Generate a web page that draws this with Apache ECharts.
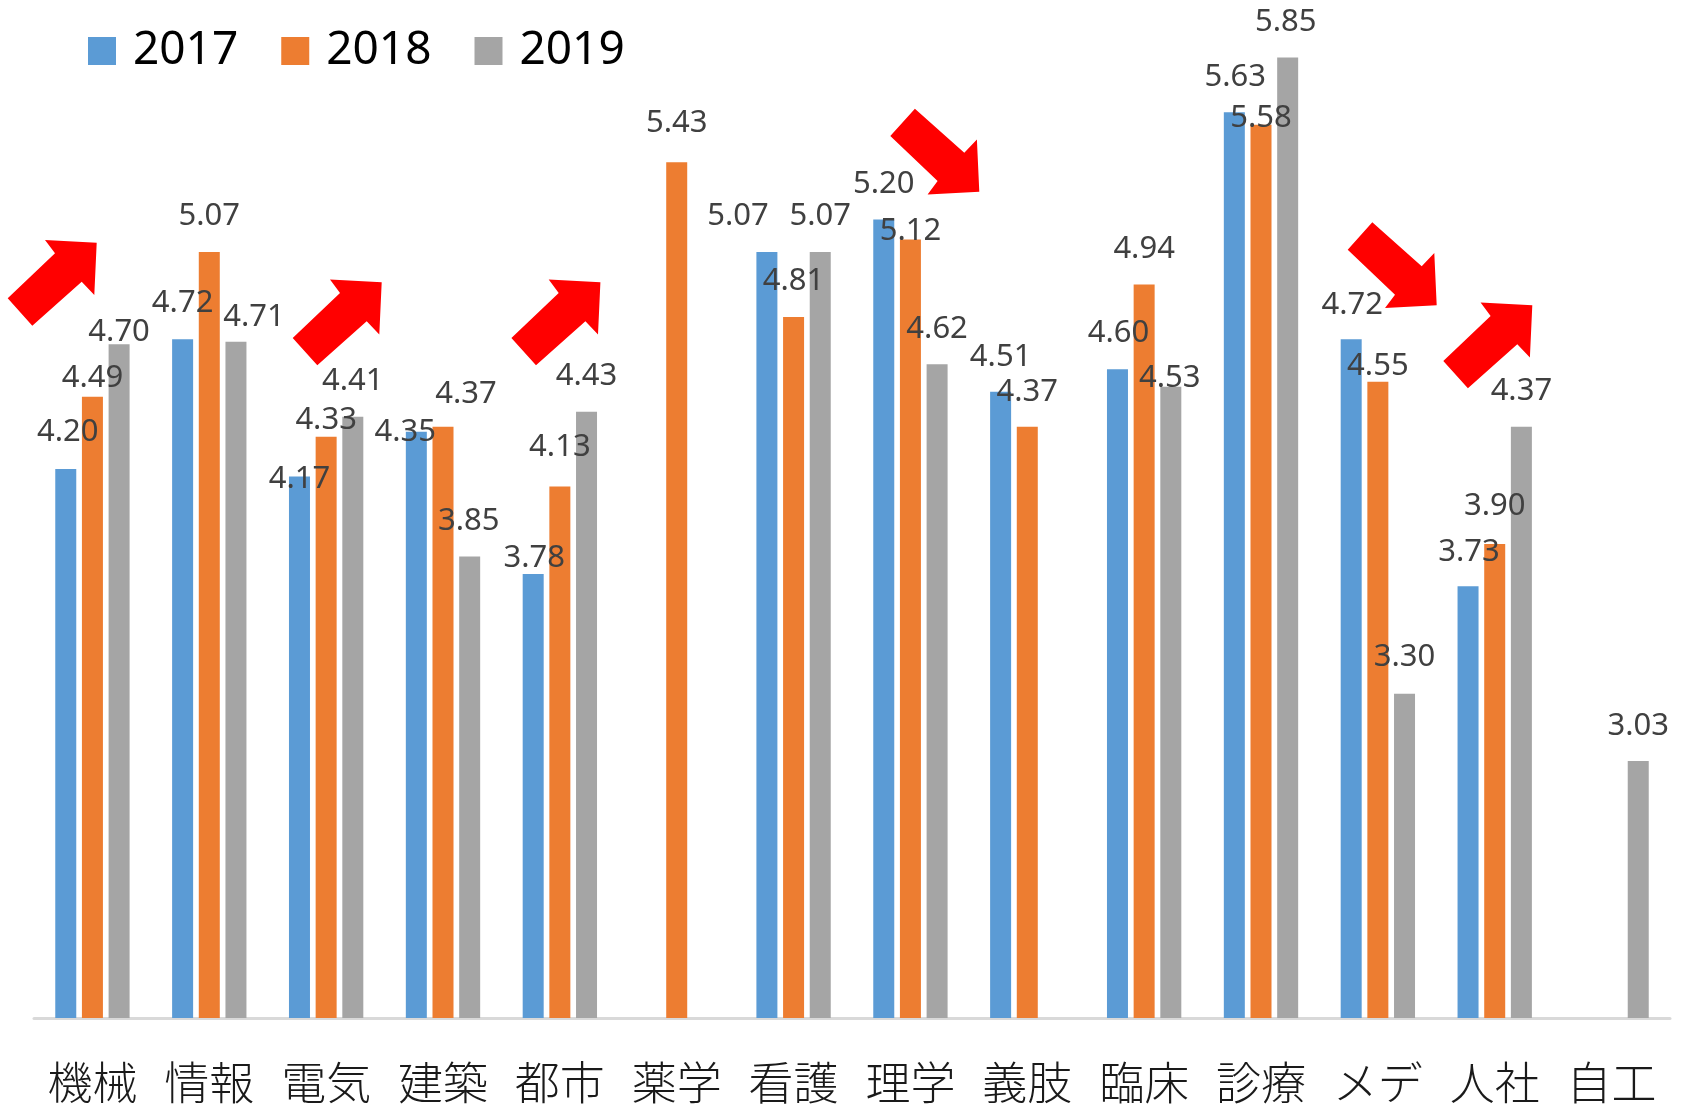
<!DOCTYPE html>
<html>
<head>
<meta charset="utf-8">
<script src="https://cdn.jsdelivr.net/npm/echarts@6/dist/echarts.min.js"></script>
<style>
  html, body { margin: 0; padding: 0; background: #fff; }
  #main { width: 1681px; height: 1107px; }
</style>
</head>
<body>
<div id="main"></div>
<script>
// 学科
var categories = ['機械', '情報', '電気', '建築', '都市', '薬学', '看護', '理学', '義肢', '臨床', '診療', 'メデ', '人社', '自工'];
var years = ['2017', '2018', '2019'];
// 年度ごとの値 (null = データなし)
var values2017 = [4.20, 4.72, 4.17, 4.35, 3.78, null, 5.07, 5.20, 4.51, 4.60, 5.63, 4.72, 3.73, null];
var values2018 = [4.49, 5.07, 4.33, 4.37, 4.13, 5.43, 4.81, 5.12, 4.37, 4.94, 5.58, 4.55, 3.90, null];
var values2019 = [4.70, 4.71, 4.41, 3.85, 4.43, null, 5.07, 4.62, null, 4.53, 5.85, 3.30, 4.37, 3.03];

// ラベルのずらし (バー上端からラベル中心まで, px)
var shift2017 = [[2,-37],[0,-36],[0,3],[-11,0],[1,-16],null,[-29,-36],[0,-35],[0,-35],[1,-36],[1,-35],[1,-34],[1,-34],null];
var shift2018 = [[0,-19],[0,-36],[0,-16],[23,-33],[0,-39],[0,-39],[0,-36],[0,-8],[0,-35],[0,-35],[0,-7],[0,-16],[0,-38],null];
var shift2019 = [[0,-12],[18,-25],[0,-36],[-1,-35],[0,-36],null,[0,-36],[0,-35],null,[-1,-9],[-2,-35],[0,-36],[0,-36],[0,-35]];

var colors = ['#5B9BD5', '#ED7D31', '#A5A5A5'];
var LABEL_H = 32;

function buildData(vals, shifts) {
  return vals.map(function (v, i) {
    if (v === null) return '-';
    var s = shifts[i] || [0, -36];
    return { value: v, label: { offset: [s[0], s[1] + LABEL_H / 2] } };
  });
}

// 赤い矢印 (先端を基準)
function arrow(tipX, tipY, down) {
  var pts = [[0, 0], [-2.4, 52.3], [-15, 39], [-64.4, 83], [-89, 55.6], [-41.7, 10.6], [-51.7, -2.7]];
  return {
    type: 'polygon',
    x: tipX,
    y: tipY,
    shape: { points: pts.map(function (p) { return [p[0], down ? -p[1] : p[1]]; }) },
    style: { fill: '#FF0000' },
    z: 100
  };
}

var chart = echarts.init(document.getElementById('main'));

var labelStyle = {
  show: true,
  position: 'top',
  distance: 0,
  fontFamily: 'Noto Sans',
  fontSize: 31,
  lineHeight: LABEL_H,
  color: '#404040',
  formatter: function (p) { return p.value.toFixed(2); }
};

var seriesData = [buildData(values2017, shift2017), buildData(values2018, shift2018), buildData(values2019, shift2019)];

var option = {
  animation: false,
  color: colors,
  legend: {
    left: 83,
    top: 18,
    icon: 'rect',
    itemWidth: 28,
    itemHeight: 28,
    itemGap: 43,
    textStyle: {
      fontFamily: 'Noto Sans',
      fontSize: 46,
      lineHeight: 56,
      color: '#000',
      padding: [0, 0, 0, 12]
    },
    data: years
  },
  grid: { left: 34, right: 11, top: 20, bottom: 89 },
  xAxis: {
    type: 'category',
    data: categories,
    axisLine: { lineStyle: { color: '#D9D9D9', width: 3 } },
    axisTick: { show: false },
    axisLabel: {
      interval: 0,
      margin: 42,
      fontFamily: 'Noto Sans CJK JP',
      fontWeight: 300,
      fontSize: 45,
      lineHeight: 46,
      color: '#1a1a1a'
    }
  },
  yAxis: {
    type: 'value',
    min: 2,
    max: 6,
    show: false,
    splitLine: { show: false }
  },
  series: years.map(function (y, k) {
    return {
      name: y,
      type: 'bar',
      barWidth: 21,
      barGap: '27%',
      label: labelStyle,
      data: seriesData[k]
    };
  }),
  graphic: [
    arrow(96.7, 242.7, false),
    arrow(381.7, 282.3, false),
    arrow(600.4, 282.3, false),
    arrow(979.3, 191.7, true),
    arrow(1436.7, 305.3, true),
    arrow(1532.3, 305.3, false)
  ]
};

chart.setOption(option);
</script>
</body>
</html>
